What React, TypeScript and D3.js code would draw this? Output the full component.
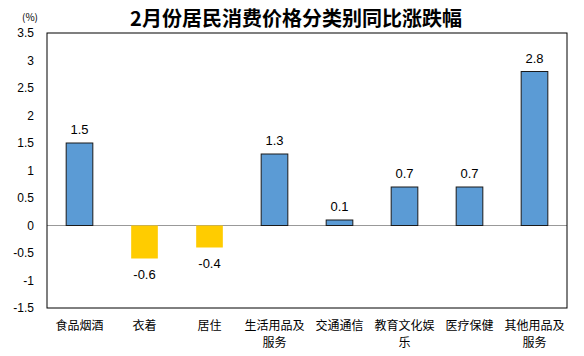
import React from "react";
import * as d3 from "d3";

const categories = [
  ["食品烟酒"],
  ["衣着"],
  ["居住"],
  ["生活用品及", "服务"],
  ["交通通信"],
  ["教育文化娱", "乐"],
  ["医疗保健"],
  ["其他用品及", "服务"],
];
const values = [1.5, -0.6, -0.4, 1.3, 0.1, 0.7, 0.7, 2.8];
const yTicks = [3.5, 3, 2.5, 2, 1.5, 1, 0.5, 0, -0.5, -1, -1.5];

const W = 584, H = 356;
const left = 47, right = 567, top = 33, bottom = 308;

export default function App() {
  const x = d3.scaleBand<number>().domain(d3.range(values.length)).range([left, right]).paddingInner(0.59).paddingOuter(0.295);
  const y = d3.scaleLinear().domain([-1.5, 3.5]).range([bottom, top]);
  const font = "'Microsoft YaHei', 'Noto Sans CJK SC', sans-serif";
  const num = "Arial, 'Liberation Sans', sans-serif";
  return (
    <svg width={W} height={H} style={{ position: "absolute", left: 0, top: 0, background: "#fff" }} fontFamily={font}>
      <rect x={0} y={0} width={W} height={H} fill="#fff" />
      <text x={296} y={26} textAnchor="middle" fontSize={20} fontWeight="bold" fill="#000">2月份居民消费价格分类别同比涨跌幅</text>
      <text x={30} y={21} textAnchor="middle" fontSize={10} fill="#000">(%)</text>
      {yTicks.map((t) => (
        <text key={t} x={34} y={y(t)} dy="0.35em" textAnchor="end" fontSize={12} fill="#000" fontFamily={num}>{t}</text>
      ))}
      <line x1={left} x2={right} y1={y(0)} y2={y(0)} stroke="#999" strokeWidth={1} />
      {values.map((v, i) => {
        const x0 = x(i)!;
        const y0 = y(Math.max(v, 0));
        const h = Math.abs(y(v) - y(0));
        const pos = v >= 0;
        return (
          <g key={i}>
            <rect x={x0} y={y0} width={x.bandwidth()} height={h} fill={pos ? "#5B9BD5" : "#FFCC00"} stroke={pos ? "#1a1a1a" : "none"} strokeWidth={1} />
            <text x={x0 + x.bandwidth() / 2} y={pos ? y(v) - 9 : y(v) + 20} textAnchor="middle" fontSize={13} fill="#000" fontFamily={num}>{v}</text>
          </g>
        );
      })}
      <rect x={left} y={top} width={right - left} height={bottom - top} fill="none" stroke="#000" strokeWidth={1} />
      {categories.map((lines, i) => (
        <text key={i} x={x(i)! + x.bandwidth() / 2} textAnchor="middle" fontSize={12} fill="#000">
          {lines.map((l, j) => (
            <tspan key={j} x={x(i)! + x.bandwidth() / 2} y={330 + j * 17}>{l}</tspan>
          ))}
        </text>
      ))}
    </svg>
  );
}
